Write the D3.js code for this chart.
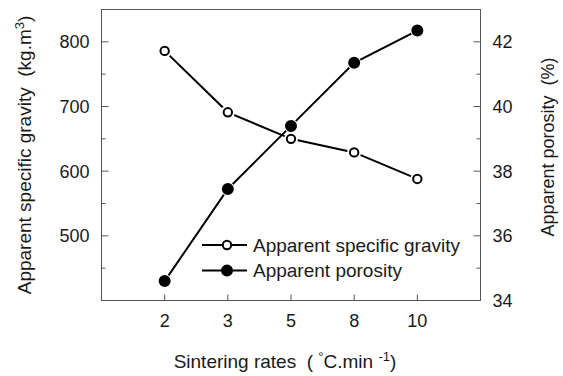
<!DOCTYPE html>
<html>
<head>
<meta charset="utf-8">
<script src="https://cdn.jsdelivr.net/npm/d3@7"></script>
<style>
  body { margin: 0; background: #fff; }
  svg text { font-family: "Liberation Sans", Arial, sans-serif; fill: #1a1a1a; white-space: pre; }
</style>
</head>
<body>
<div id="chart"></div>
<script>
const rates = ["2", "3", "5", "8", "10"]
const gravity = [786, 691, 650, 629, 588]
const porosity = [34.6, 37.45, 39.4, 41.35, 42.35]
const gravityTicks = [500, 600, 700, 800]
const gravityMinor = [450, 550, 650, 750]
const porosityTicks = [34, 36, 38, 40, 42]
const porosityMinor = [35, 37, 39, 41]

const width = 563, height = 376
const m = { left: 101.5, top: 9.5, right: 480.5, bottom: 300.5 }

const svg = d3.select("#chart").append("svg")
    .attr("width", width)
    .attr("height", height)

const x = d3.scalePoint()
    .domain(rates)
    .range([m.left, m.right])
    .padding(1)

const yL = d3.scaleLinear().domain([400, 850]).range([m.bottom, m.top])
const yR = d3.scaleLinear().domain([34, 43]).range([m.bottom, m.top])

// frame
svg.append("rect")
    .attr("x", m.left).attr("y", m.top)
    .attr("width", m.right - m.left).attr("height", m.bottom - m.top)
    .attr("fill", "none").attr("stroke", "#555").attr("stroke-width", 1)

const tickColor = "#555"
const tickFont = 18

// left axis, ticks pointing inward
const left = svg.append("g").attr("transform", `translate(${m.left},0)`)
left.selectAll("line.major").data(gravityTicks).enter().append("line")
    .attr("x1", 0).attr("x2", 7)
    .attr("y1", d => yL(d)).attr("y2", d => yL(d))
    .attr("stroke", tickColor)
left.selectAll("line.minor").data(gravityMinor).enter().append("line")
    .attr("x1", 0).attr("x2", 4)
    .attr("y1", d => yL(d)).attr("y2", d => yL(d))
    .attr("stroke", tickColor)
left.selectAll("text").data(gravityTicks).enter().append("text")
    .attr("x", -12).attr("y", d => yL(d))
    .attr("dy", "0.36em")
    .attr("text-anchor", "end")
    .attr("font-size", tickFont)
    .text(d => d)

// right axis
const right = svg.append("g").attr("transform", `translate(${m.right},0)`)
right.selectAll("line.major").data(porosityTicks).enter().append("line")
    .attr("x1", 0).attr("x2", -7)
    .attr("y1", d => yR(d)).attr("y2", d => yR(d))
    .attr("stroke", tickColor)
right.selectAll("line.minor").data(porosityMinor).enter().append("line")
    .attr("x1", 0).attr("x2", -4)
    .attr("y1", d => yR(d)).attr("y2", d => yR(d))
    .attr("stroke", tickColor)
right.selectAll("text").data(porosityTicks).enter().append("text")
    .attr("x", 12).attr("y", d => yR(d))
    .attr("dy", "0.36em")
    .attr("font-size", tickFont)
    .text(d => d)

// bottom axis
const bottom = svg.append("g").attr("transform", `translate(0,${m.bottom})`)
bottom.selectAll("line").data(rates).enter().append("line")
    .attr("x1", d => x(d)).attr("x2", d => x(d))
    .attr("y1", 0).attr("y2", -6)
    .attr("stroke", tickColor)
bottom.selectAll("text").data(rates).enter().append("text")
    .attr("x", d => x(d)).attr("y", 26)
    .attr("text-anchor", "middle")
    .attr("font-size", tickFont)
    .text(d => d)

// axis titles
const yTitle = svg.append("text")
    .attr("transform", `translate(31,${(m.top + m.bottom) / 2}) rotate(-90)`)
    .attr("text-anchor", "middle")
    .attr("font-size", 19)
yTitle.append("tspan").text("Apparent specific gravity  (kg.m")
yTitle.append("tspan").attr("dy", -7).attr("font-size", 13).text("3")
yTitle.append("tspan").attr("dy", 7).text(")")

svg.append("text")
    .attr("transform", `translate(554,147) rotate(-90)`)
    .attr("text-anchor", "middle")
    .attr("font-size", 18)
    .text("Apparent porosity  (%)")

const xTitle = svg.append("text")
    .attr("x", 285).attr("y", 368)
    .attr("text-anchor", "middle")
    .attr("font-size", 19)
xTitle.append("tspan").text("Sintering rates  ( ")
xTitle.append("tspan").attr("dy", -7).attr("font-size", 13).text("°")
xTitle.append("tspan").attr("dy", 7).text("C.min ")
xTitle.append("tspan").attr("dy", -7).attr("font-size", 13).text("-1")
xTitle.append("tspan").attr("dy", 7).text(")")

// series
const series = [
    { name: "Apparent specific gravity", values: gravity, y: yL, fill: "#fff" },
    { name: "Apparent porosity", values: porosity, y: yR, fill: "#000" }
]

series.forEach(s => {
    const pts = rates.map((r, i) => [x(r), s.y(s.values[i])])
    svg.append("path")
        .attr("d", d3.line()(pts))
        .attr("fill", "none")
        .attr("stroke", "#000")
        .attr("stroke-width", 2)
})
series.forEach(s => {
    const g = svg.append("g")
    const pts = rates.map((r, i) => [x(r), s.y(s.values[i])])
    g.selectAll("circle.halo").data(pts).enter().append("circle")
        .attr("cx", d => d[0]).attr("cy", d => d[1]).attr("r", 7)
        .attr("fill", "#fff")
    g.selectAll("circle.mark").data(pts).enter().append("circle")
        .attr("cx", d => d[0]).attr("cy", d => d[1])
        .attr("r", s.fill === "#000" ? 5 : 4.2)
        .attr("fill", s.fill)
        .attr("stroke", "#000").attr("stroke-width", 2)
})

// legend
const legend = svg.append("g")
series.forEach((s, i) => {
    const ly = 245 + i * 25.5
    legend.append("line")
        .attr("x1", 202).attr("x2", 247).attr("y1", ly).attr("y2", ly)
        .attr("stroke", "#000").attr("stroke-width", 2)
    legend.append("circle")
        .attr("cx", 227).attr("cy", ly)
        .attr("r", s.fill === "#000" ? 5 : 4.2)
        .attr("fill", s.fill)
        .attr("stroke", "#000").attr("stroke-width", 2)
    legend.append("text")
        .attr("x", 253).attr("y", ly)
        .attr("dy", "0.36em")
        .attr("font-size", 19)
        .text(s.name)
})
</script>
</body>
</html>
